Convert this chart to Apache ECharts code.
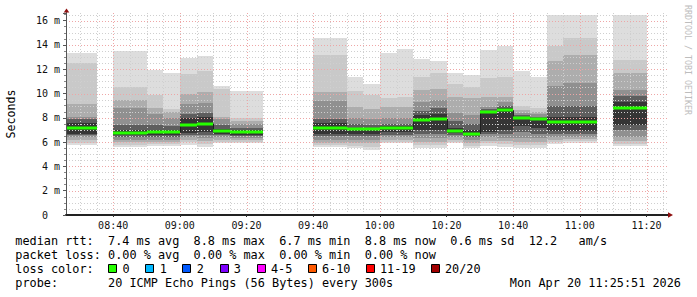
<!DOCTYPE html>
<html><head><meta charset="utf-8">
<script src="https://cdn.jsdelivr.net/npm/echarts@6/dist/echarts.min.js"></script>
<style>html,body{margin:0;padding:0;background:#fff}#c{width:697px;height:297px}</style>
</head><body><div id="c"></div>
<script>
// ---- data (values in ms) ----
const slotStart = ['08:25','08:30','08:40','08:45','08:50','08:55','09:00','09:05','09:10','09:15','09:20',
  '09:40','09:45','09:50','09:55','10:00','10:05','10:10','10:15','10:20','10:25','10:30','10:35',
  '10:40','10:45','10:50','10:55','11:00','11:10','11:15'];
const b1Lo = [5.76,5.76,5.62,5.62,5.68,5.65,5.80,5.62,5.90,5.90,5.90,5.57,5.57,5.49,5.35,5.90,5.90,5.49,5.49,5.90,5.49,5.68,5.60,5.49,5.49,5.85,5.95,5.95,5.70,5.70];
const b1Hi = [13.36,13.36,13.5,13.5,11.96,11.73,12.95,13.1,10.6,10.2,10.2,14.55,14.55,11.38,10.78,13.3,13.66,12.84,12.67,11.71,11.52,13.58,13.93,11.85,11.4,16.46,16.46,16.46,16.46,16.46];
const b2Lo = [5.95,5.95,5.76,5.76,5.85,5.85,6.00,5.85,6.00,6.05,6.05,5.75,5.75,5.70,5.60,6.05,6.05,5.75,5.75,6.05,5.70,5.90,5.85,5.75,5.75,6.00,6.10,6.10,5.85,5.85];
const b2Hi = [12.5,12.5,10.56,10.56,9.87,8.7,11.6,11.87,10.4,7.95,7.95,13.17,13.17,10.23,9.9,9.6,9.7,11.4,11.7,10.8,10.5,11.25,11.33,8.97,8.77,13.88,14.55,14.55,12.78,12.78];
const b3Lo = [6.17,6.17,5.98,5.98,6.00,6.00,6.20,6.10,6.20,6.20,6.20,5.95,5.95,5.95,5.90,6.20,6.20,6.05,6.05,6.20,5.95,6.10,6.10,6.05,6.00,6.20,6.25,6.25,6.06,6.06];
const b3Hi = [9.14,9.14,9.47,9.47,8.78,8.45,10.0,10.15,8.05,7.7,7.7,10.15,10.15,8.9,8.7,8.9,8.9,10.3,10.4,9.74,9.6,9.74,9.74,8.65,8.5,12.65,13.17,13.17,11.69,11.69];
const b4Lo = [6.39,6.39,6.17,6.17,6.20,6.20,6.40,6.35,6.40,6.35,6.35,6.20,6.20,6.20,6.20,6.40,6.40,6.35,6.35,6.40,6.15,6.40,6.35,6.30,6.30,6.40,6.45,6.45,6.40,6.40];
const b4Hi = [8.1,8.1,8.8,8.8,8.35,8.0,9.1,9.2,7.9,7.5,7.5,9.4,9.4,8.0,7.9,8.0,8.0,9.3,9.5,8.37,8.2,8.92,9.3,8.4,8.3,10.59,10.86,10.86,10.32,10.32];
const b5Lo = [6.58,6.58,6.45,6.45,6.45,6.45,6.60,6.60,6.55,6.50,6.50,6.50,6.50,6.50,6.50,6.60,6.60,6.70,6.70,6.60,6.40,6.70,6.70,6.80,6.70,6.70,6.70,6.70,7.00,7.00];
const b5Hi = [7.9,7.9,7.4,7.4,7.4,7.3,8.3,8.4,7.4,7.2,7.2,7.9,7.9,7.5,7.45,7.5,7.5,8.6,8.8,7.7,7.5,8.7,8.95,8.2,8.1,8.95,8.95,8.95,9.77,9.77];
const b6Lo = [6.70,6.70,6.55,6.55,6.60,6.60,6.75,6.80,6.70,6.60,6.60,6.70,6.70,6.70,6.70,6.80,6.80,7.00,7.00,6.75,6.55,6.86,7.00,7.30,7.15,6.90,6.90,6.90,7.40,7.40];
const b6Hi = [7.6,7.6,7.0,7.0,7.0,7.0,7.95,8.1,7.1,7.0,7.0,7.6,7.6,7.2,7.2,7.3,7.3,8.2,8.3,7.2,7.0,8.6,8.8,8.1,8.0,8.1,8.1,8.1,9.3,9.3];
const medianRtt = [7.2,7.2,6.73,6.73,6.82,6.83,7.38,7.52,6.93,6.8,6.8,7.2,7.2,7.05,7.05,7.17,7.17,7.82,7.9,6.89,6.67,8.48,8.62,8.01,7.9,7.65,7.63,7.63,8.8,8.8];

const xTickLabels = ['08:40','09:00','09:20','09:40','10:00','10:20','10:40','11:00','11:20'];
const yTickValues = [0,2,4,6,8,10,12,14,16];
const rttStats = [7.4, 8.8, 6.7, 8.8, 0.6];   // avg max min now sd
const amps = 12.2;
const lossStats = [0.00, 0.00, 0.00, 0.00];  // avg max min now
const lossLabels = ['0','1','2','3','4-5','6-10','11-19','20/20'];
const lossColors = ['#26ff00','#00b8ff','#0059ff','#7e00ff','#ff00ff','#ff5a00','#ff0000','#a10000'];
const probeText = '20 ICMP Echo Pings (56 Bytes) every 300s';
const stampText = 'Mon Apr 20 11:25:51 2026';

// ---- helpers ----
const toMin = s => { const p = s.split(':'); return (+p[0]) * 60 + (+p[1]); };
const fmtMin = v => { const h = Math.floor(v / 60), m = Math.round(v % 60); return (h < 10 ? '0' : '') + h + ':' + (m < 10 ? '0' : '') + m; };
const X_MIN = toMin('08:25') + 51 / 60, X_MAX = toMin('11:25') + 51 / 60;
const Y_MAX = 16.63;
const SLOT = 5;
const bandColors = ['#dddddd', '#c9c9c9', '#adadad', '#909090', '#5e5e5e', '#353535'];
const nb = s => s.replace(/ /g, '\u00a0');
const MONO = 'DejaVu Sans Mono';

const smokeData = slotStart.map((s, i) => [toMin(s), b1Lo[i], b1Hi[i], b2Lo[i], b2Hi[i], b3Lo[i], b3Hi[i], b4Lo[i], b4Hi[i], b5Lo[i], b5Hi[i], b6Lo[i], b6Hi[i]]);
const medData = slotStart.map((s, i) => [toMin(s), medianRtt[i]]);

const vGrid = [];
for (let t = toMin('08:30'); t < X_MAX; t += 5) vGrid.push([t, t % 20 === 0 ? 1 : 0]);
const hGrid = [];
for (let v = 0.5; v < Y_MAX; v += 0.5) hGrid.push([v, v % 2 === 0 ? 1 : 0]);

function clipR(r, cs) {
  return echarts.graphic.clipRectByRect(r, { x: cs.x, y: cs.y, width: cs.width, height: cs.height });
}

const chart = echarts.init(document.getElementById('c'), null, { renderer: 'svg' });

// legend graphics
const X0 = 15.3, FS = '11.85px ' + MONO;
const line1 = 'median rtt:  ' + rttStats[0].toFixed(1) + ' ms avg  ' + rttStats[1].toFixed(1) + ' ms max  ' +
  rttStats[2].toFixed(1) + ' ms min  ' + rttStats[3].toFixed(1) + ' ms now  ' + rttStats[4].toFixed(1) + ' ms sd  ' + amps.toFixed(1) + '   am/s';
const line2 = 'packet loss: ' + lossStats[0].toFixed(2) + ' % avg  ' + lossStats[1].toFixed(2) + ' % max  ' +
  lossStats[2].toFixed(2) + ' % min  ' + lossStats[3].toFixed(2) + ' % now';
const graphics = [
  { type: 'text', x: X0, y: 240.6, style: { text: nb(line1), font: FS, fill: '#000', align: 'left', verticalAlign: 'middle' } },
  { type: 'text', x: X0, y: 254.6, style: { text: nb(line2), font: FS, fill: '#000', align: 'left', verticalAlign: 'middle' } },
  { type: 'text', x: X0, y: 268.6, style: { text: nb('loss color:'), font: FS, fill: '#000', align: 'left', verticalAlign: 'middle' } },
  { type: 'text', x: X0, y: 282.6, style: { text: nb('probe:       ' + probeText), font: FS, fill: '#000', align: 'left', verticalAlign: 'middle' } },
  { type: 'text', x: 681, y: 282.6, style: { text: nb(stampText), font: FS, fill: '#000', align: 'right', verticalAlign: 'middle' } },
  { type: 'text', x: 10.5, y: 114, rotation: Math.PI / 2, style: { text: 'Seconds', font: '11.6px ' + MONO, fill: '#000', align: 'center', verticalAlign: 'middle' } },
  { type: 'text', x: 687.5, y: 60, rotation: -Math.PI / 2, style: { text: nb('RRDTOOL / TOBI OETIKER'), font: '8.3px ' + MONO, fill: '#bdbdbd', align: 'center', verticalAlign: 'middle' } }
];
let sq = 108.3;
lossLabels.forEach((lab, i) => {
  graphics.push({ type: 'rect', shape: { x: Math.round(sq) + 0.5, y: 264.5, width: 8, height: 8 }, style: { fill: lossColors[i], stroke: '#000', lineWidth: 1 } });
  graphics.push({ type: 'text', x: sq + 14.3, y: 268.6, style: { text: lab, font: FS, fill: '#000', align: 'left', verticalAlign: 'middle' } });
  sq += 30.1 + 6.98 * lab.length;
});

chart.setOption({
  animation: false,
  backgroundColor: '#fff',
  grid: { left: 66, top: 13, width: 600, height: 202, containLabel: false },
  xAxis: {
    type: 'value', min: X_MIN, max: X_MAX, z: 10,
    axisLine: { show: true, lineStyle: { color: '#222', width: 2 } },
    axisTick: { show: true, length: 2, customValues: xTickLabels.map(toMin), lineStyle: { color: '#333' } },
    axisLabel: { customValues: xTickLabels.map(toMin), formatter: v => fmtMin(v), fontFamily: MONO, fontSize: 10, color: '#111', margin: 5 },
    splitLine: { show: false }
  },
  yAxis: {
    type: 'value', min: 0, max: Y_MAX, interval: 2, z: 10,
    axisLine: { show: true, lineStyle: { color: '#555', width: 1 } },
    axisTick: { show: true, length: 3, lineStyle: { color: '#555' } },
    minorTick: { show: true, splitNumber: 4, length: 2, lineStyle: { color: '#888' } },
    axisLabel: {
      showMaxLabel: false, fontFamily: MONO, fontSize: 10, color: '#111', margin: 6,
      formatter: v => (yTickValues.indexOf(v) < 0 ? '' : (v === 0 ? '0\u00a0\u00a0' : v + '\u00a0m'))
    },
    splitLine: { show: false }
  },
  graphic: graphics,
  series: [
    {
      type: 'custom', name: 'smoke', z: 2, data: smokeData,
      renderItem: (params, api) => {
        const t = api.value(0), cs = params.coordSys, children = [];
        for (let k = 0; k < 6; k++) {
          const lo = api.value(1 + 2 * k), hi = api.value(2 + 2 * k);
          const p1 = api.coord([t, hi]), p2 = api.coord([t + SLOT, lo]);
          const x1 = Math.round(p1[0]), x2 = Math.round(p2[0]), y1 = Math.round(p1[1]), y2 = Math.round(p2[1]);
          const r = clipR({ x: x1, y: y1, width: x2 - x1, height: y2 - y1 }, cs);
          if (r) children.push({ type: 'rect', shape: r, style: { fill: bandColors[k] } });
        }
        return { type: 'group', children };
      }
    },
    {
      type: 'custom', name: 'vgrid', z: 3, data: vGrid, silent: true,
      renderItem: (params, api) => {
        const v = api.value(0), major = api.value(1);
        const a = api.coord([v, 0]), b = api.coord([v, Y_MAX]);
        const x = Math.round(a[0]) + 0.5;
        return { type: 'line', shape: { x1: x, y1: a[1], x2: x, y2: b[1] },
          style: { stroke: major ? '#eea6a6' : '#cfcfcf', lineWidth: 1, lineDash: [1, 2] } };
      }
    },
    {
      type: 'custom', name: 'hgrid', z: 3, data: hGrid, silent: true,
      renderItem: (params, api) => {
        const v = api.value(0), major = api.value(1);
        const a = api.coord([X_MIN, v]), b = api.coord([X_MAX, v]);
        const y = Math.round(a[1]) + 0.5;
        return { type: 'line', shape: { x1: a[0], y1: y, x2: b[0] + 2, y2: y },
          style: { stroke: major ? '#eea6a6' : '#cfcfcf', lineWidth: 1, lineDash: [1, 2] } };
      }
    },
    {
      type: 'custom', name: 'median', z: 4, data: medData,
      renderItem: (params, api) => {
        const i = params.dataIndex, t = api.value(0), m = api.value(1), cs = params.coordSys, children = [];
        const p1 = api.coord([t, m]), p2 = api.coord([t + SLOT, m]);
        if (i > 0 && toMin(slotStart[i - 1]) === t - SLOT && medianRtt[i - 1] !== m) {
          const q = api.coord([t, medianRtt[i - 1]]);
          const x = Math.round(p1[0]) + 0.5;
          children.push({ type: 'line', shape: { x1: x, y1: q[1], x2: x, y2: p1[1] }, style: { stroke: '#202020', lineWidth: 1 } });
        }
        const x1 = Math.round(p1[0]), x2 = Math.round(p2[0]);
        const r = clipR({ x: x1, y: Math.round(p1[1]) - 1.5, width: x2 - x1, height: 3 }, cs);
        if (r) children.push({ type: 'rect', shape: r, style: { fill: lossColors[0] } });
        return { type: 'group', children };
      }
    },
    {
      type: 'custom', name: 'arrows', z: 12, data: [[X_MAX, Y_MAX]], silent: true,
      renderItem: (params, api) => {
        const top = api.coord([X_MIN, Y_MAX]), right = api.coord([X_MAX, 0]);
        const tx = Math.round(top[0]) + 0.5, ry = Math.round(right[1]);
        return { type: 'group', children: [
          { type: 'line', shape: { x1: tx, y1: top[1], x2: tx, y2: top[1] - 1 }, style: { stroke: '#555', lineWidth: 1 } },
          { type: 'line', shape: { x1: right[0], y1: ry, x2: right[0] + 3, y2: ry }, style: { stroke: '#222', lineWidth: 2 } },
          { type: 'polygon', shape: { points: [[tx - 2.8, top[1] - 0.5], [tx + 2.8, top[1] - 0.5], [tx, top[1] - 4.5]] }, style: { fill: '#8e1010' } },
          { type: 'polygon', shape: { points: [[right[0] + 2, ry - 2.8], [right[0] + 2, ry + 2.8], [right[0] + 7, ry]] }, style: { fill: '#8e1010' } }
        ] };
      }
    }
  ]
});
</script>
</body></html>
